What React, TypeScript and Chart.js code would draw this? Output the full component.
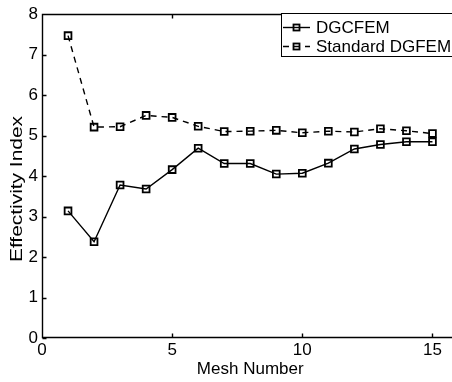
import React, { useEffect, useRef } from "react";
import { Chart, registerables } from "chart.js";

Chart.register(...registerables);

// Effectivity index per mesh for the two methods
const meshNumbers = [1, 2, 3, 4, 5, 6, 7, 8, 9, 10, 11, 12, 13, 14, 15];
const dgcfem = [3.14, 2.38, 3.78, 3.68, 4.16, 4.69, 4.31, 4.31, 4.05, 4.07, 4.32, 4.67, 4.78, 4.85, 4.85];
const standardDgfem = [7.47, 5.21, 5.22, 5.5, 5.45, 5.23, 5.1, 5.11, 5.13, 5.07, 5.11, 5.09, 5.17, 5.12, 5.05];
const seriesLabels = ["DGCFEM", "Standard DGFEM"];

const xTicks = [0, 5, 10, 15];
const yTicks = [0, 1, 2, 3, 4, 5, 6, 7, 8];
const xTitle = "Mesh Number";
const yTitle = "Effectivity Index";

const FAMILY = "'Liberation Sans', Helvetica, Arial, sans-serif";
const FONT = { family: FAMILY, size: 17 };
const FONT_CSS = `${FONT.size}px ${FAMILY}`;
const TICK_LEN = 4;

// Box around the axes with inward ticks, the y-axis label and a boxed legend
const framePlugin = {
  id: "frameAndLegend",
  afterDraw(chart: any) {
    const { ctx, chartArea: a, scales } = chart;
    const L = Math.round(a.left) + 0.5;
    const R = Math.round(a.right) - 0.5;
    const T = Math.round(a.top) + 0.5;
    const B = Math.round(a.bottom) - 0.5;
    ctx.save();
    ctx.strokeStyle = "#000";
    ctx.lineWidth = 1.4;
    ctx.setLineDash([]);
    ctx.beginPath();
    ctx.rect(L, T, R - L, B - T);
    for (const v of xTicks) {
      const px = Math.round(scales.x.getPixelForValue(v)) + 0.5;
      ctx.moveTo(px, B);
      ctx.lineTo(px, B - TICK_LEN);
      ctx.moveTo(px, T);
      ctx.lineTo(px, T + TICK_LEN);
    }
    for (const v of yTicks) {
      const py = Math.round(scales.y.getPixelForValue(v)) + 0.5;
      ctx.moveTo(L, py);
      ctx.lineTo(L + TICK_LEN, py);
      ctx.moveTo(R, py);
      ctx.lineTo(R - TICK_LEN, py);
    }
    ctx.stroke();

    // y-axis label, a little elongated along its length
    ctx.save();
    ctx.translate(17.5, 189);
    ctx.rotate(-Math.PI / 2);
    ctx.scale(1.23, 1);
    ctx.fillStyle = "#000";
    ctx.font = FONT_CSS;
    ctx.textAlign = "center";
    ctx.textBaseline = "middle";
    ctx.fillText(yTitle, 0, 0);
    ctx.restore();

    // legend
    const boxL = 281.5;
    const boxT = 13.5;
    const boxB = 56.5;
    const boxR = 462.5;
    ctx.lineWidth = 1;
    ctx.fillStyle = "#fff";
    ctx.fillRect(boxL, boxT, boxR - boxL, boxB - boxT);
    ctx.strokeRect(boxL, boxT, boxR - boxL, boxB - boxT);
    const rows = [27, 46];
    chart.data.datasets.forEach((ds: any, i: number) => {
      const y = rows[i] + 0.5;
      ctx.lineWidth = ds.borderWidth;
      ctx.setLineDash(ds.borderDash || []);
      ctx.beginPath();
      ctx.moveTo(283, y);
      ctx.lineTo(310, y);
      ctx.stroke();
      ctx.setLineDash([]);
      ctx.lineWidth = ds.pointBorderWidth;
      ctx.strokeRect(293.5, y - 3, 6, 6);
      ctx.fillStyle = "#000";
      ctx.font = FONT_CSS;
      ctx.textAlign = "left";
      ctx.textBaseline = "middle";
      ctx.fillText(ds.label, 316, rows[i] + 1);
    });
    ctx.restore();
  },
};

export default function App() {
  const canvasRef = useRef<HTMLCanvasElement | null>(null);

  useEffect(() => {
    const canvas = canvasRef.current;
    if (!canvas) return;
    const toPoints = (ys: number[]) => meshNumbers.map((x, i) => ({ x, y: ys[i] }));
    const common = {
      borderColor: "#000",
      borderWidth: 1.4,
      pointStyle: "rect",
      pointRadius: 4.8,
      pointBorderWidth: 1.8,
      pointBorderColor: "#000",
      pointBackgroundColor: "rgba(0,0,0,0)",
      showLine: true,
      tension: 0,
    };
    const chart = new Chart(canvas, {
      type: "scatter",
      data: {
        datasets: [
          { ...common, label: seriesLabels[0], data: toPoints(dgcfem) },
          { ...common, label: seriesLabels[1], data: toPoints(standardDgfem), borderDash: [6, 5] },
        ],
      },
      options: {
        responsive: false,
        animation: false,
        devicePixelRatio: 1,
        layout: { padding: { top: 10, right: 11.5, left: 0, bottom: 0 } },
        plugins: { legend: { display: false }, tooltip: { enabled: false } },
        scales: {
          x: {
            type: "linear",
            min: 0,
            max: 16,
            afterBuildTicks: (s: any) => {
              s.ticks = xTicks.map((v) => ({ value: v }));
            },
            afterFit: (s: any) => {
              s.height = 44;
            },
            grid: { display: false, drawTicks: false },
            border: { display: false },
            ticks: { color: "#000", font: FONT, padding: 2, maxRotation: 0, autoSkip: false },
            title: { display: true, text: xTitle, color: "#000", font: FONT, padding: { top: 0, bottom: 2 } },
          },
          y: {
            type: "linear",
            min: 0,
            max: 8,
            afterBuildTicks: (s: any) => {
              s.ticks = yTicks.map((v) => ({ value: v }));
            },
            afterFit: (s: any) => {
              s.width = 42;
            },
            grid: { display: false, drawTicks: false },
            border: { display: false },
            ticks: { color: "#000", font: FONT, padding: 4, autoSkip: false },
            title: { display: false, text: yTitle },
          },
        },
      },
      plugins: [framePlugin],
    } as any);
    return () => chart.destroy();
  }, []);

  return (
    <div
      style={{
        position: "fixed",
        left: 0,
        top: 0,
        width: 452,
        height: 382,
        overflow: "hidden",
        background: "#fff",
      }}
    >
      <canvas ref={canvasRef} width={470} height={382} style={{ display: "block" }} />
    </div>
  );
}
